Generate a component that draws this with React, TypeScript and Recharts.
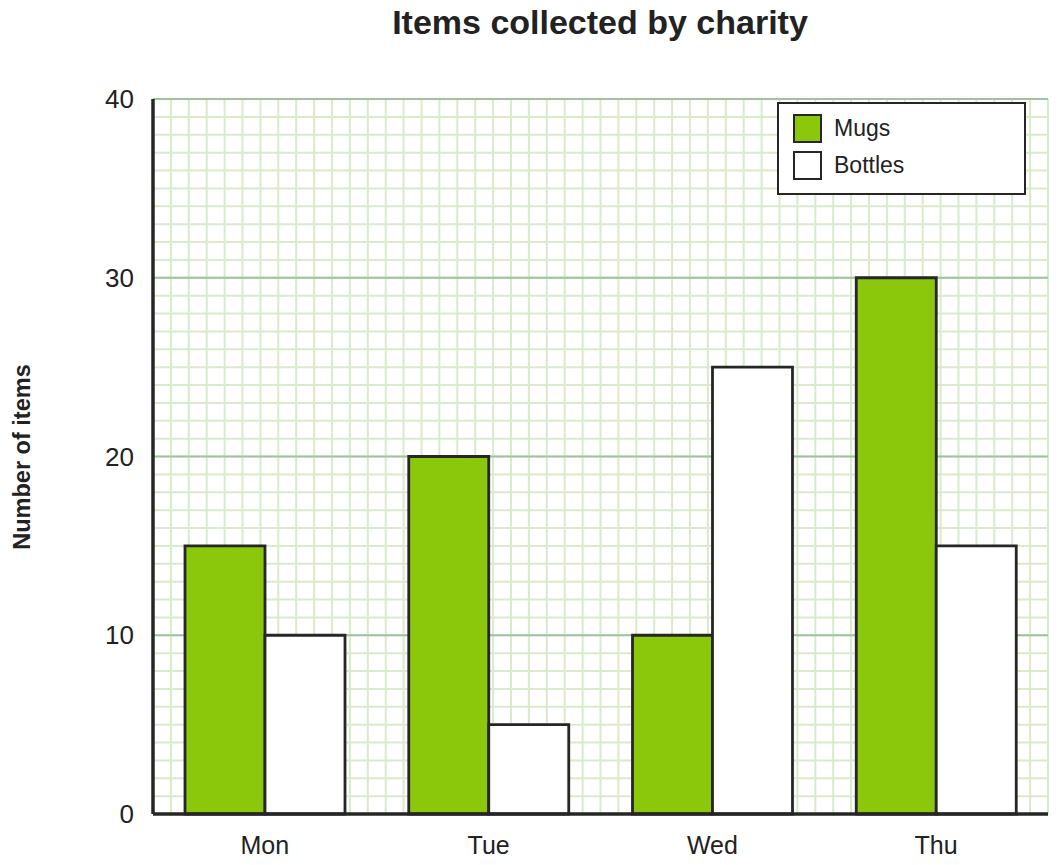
import React from 'react';
import { BarChart, Bar, XAxis, YAxis, CartesianGrid } from 'recharts';

const days = ['Mon', 'Tue', 'Wed', 'Thu'];
const mugs = [15, 20, 10, 30];
const bottles = [10, 5, 25, 15];
const yTicks = [0, 10, 20, 30, 40];

const data = days.map((d, i) => ({ day: d, Mugs: mugs[i], Bottles: bottles[i] }));

const GREEN = '#8bc70a';
const DARK = '#262626';
const FONT = '"Liberation Sans", Arial, sans-serif';

const minorH = ({ offset }: any) => {
  const out: number[] = [];
  for (let i = 0; i <= 40; i++) out.push(offset.top + (offset.height * i) / 40);
  return out;
};
const minorV = ({ offset }: any) => {
  const out: number[] = [];
  for (let i = 0; i <= 50; i++) out.push(offset.left + (offset.width * i) / 50);
  return out;
};

const LegendBox = () => (
  <div
    style={{
      position: 'absolute',
      left: 777,
      top: 102,
      width: 249,
      height: 93,
      border: `2px solid ${DARK}`,
      background: '#fff',
      boxSizing: 'border-box',
      fontFamily: FONT,
      fontSize: 23,
      color: '#222',
      paddingLeft: 14,
      paddingTop: 6,
    }}
  >
    {[
      { name: 'Mugs', fill: GREEN },
      { name: 'Bottles', fill: '#fff' },
    ].map((it) => (
      <div key={it.name} style={{ display: 'flex', alignItems: 'center', height: 37 }}>
        <div
          style={{
            width: 29,
            height: 29,
            background: it.fill,
            border: `2px solid ${DARK}`,
            boxSizing: 'border-box',
            marginRight: 12,
          }}
        />
        <span>{it.name}</span>
      </div>
    ))}
  </div>
);

export default function App() {
  return (
    <div style={{ position: 'absolute', left: 0, top: 0, width: 1059, height: 865, background: '#fff' }}>
      <BarChart
        width={1059}
        height={865}
        data={data}
        margin={{ top: 99, right: 11, bottom: 0, left: 0 }}
        barCategoryGap={32}
        barGap={0}
        style={{ position: 'absolute', left: 0, top: 0 }}
      >
        <CartesianGrid
          stroke="#d9eacd"
          strokeWidth={2}
          horizontalCoordinatesGenerator={minorH}
          verticalCoordinatesGenerator={minorV}
        />
        <CartesianGrid stroke="#9fc39f" strokeWidth={2} vertical={false} />
        <XAxis
          dataKey="day"
          axisLine={{ stroke: DARK, strokeWidth: 3.5 }}
          tickLine={false}
          tick={{ fill: '#222', fontSize: 25, fontFamily: FONT }}
          tickMargin={16}
          height={51}
        />
        <YAxis
          domain={[0, 40]}
          ticks={yTicks}
          interval={0}
          axisLine={{ stroke: DARK, strokeWidth: 3.5 }}
          tickLine={false}
          tick={{ fill: '#222', fontSize: 26, fontFamily: FONT }}
          tickMargin={13}
          width={153}
        />
        <Bar dataKey="Mugs" fill={GREEN} stroke={DARK} strokeWidth={2.8} isAnimationActive={false} />
        <Bar dataKey="Bottles" fill="#fff" stroke={DARK} strokeWidth={2.8} isAnimationActive={false} />
      </BarChart>
      <LegendBox />
      <div
        style={{
          position: 'absolute',
          left: 0,
          width: 1200,
          top: 3,
          textAlign: 'center',
          fontFamily: FONT,
          fontWeight: 'bold',
          fontSize: 34,
          color: '#222',
        }}
      >
        Items collected by charity
      </div>
      <div
        style={{
          position: 'absolute',
          left: 22,
          top: 457,
          transform: 'translate(-50%, -50%) rotate(-90deg)',
          transformOrigin: 'center',
          fontFamily: FONT,
          fontWeight: 'bold',
          fontSize: 23.5,
          color: '#222',
          whiteSpace: 'nowrap',
        }}
      >
        Number of items
      </div>
    </div>
  );
}
